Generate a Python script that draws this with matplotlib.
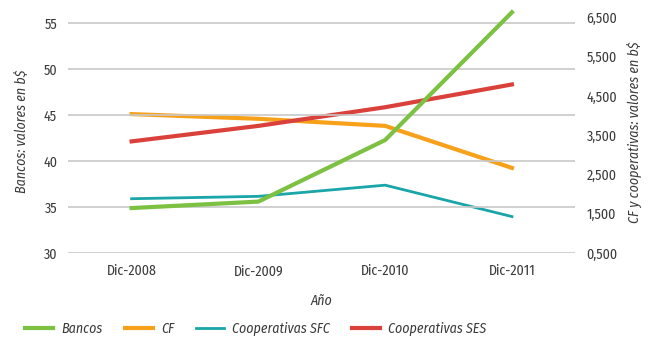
import matplotlib.pyplot as plt
from matplotlib.ticker import FuncFormatter

plt.rcParams['font.family'] = ['Fira Sans Condensed', 'DejaVu Sans']
plt.rcParams['font.weight'] = 'normal'

years = ["Dic-2008", "Dic-2009", "Dic-2010", "Dic-2011"]
bancos = [34.9, 35.6, 42.3, 56.2]
cf = [4040, 3920, 3740, 2670]
coop_sfc = [1885, 1945, 2230, 1430]
coop_ses = [3345, 3740, 4215, 4795]

left_ticks = [30, 35, 40, 45, 50, 55]
right_ticks = [500, 1500, 2500, 3500, 4500, 5500, 6500]

txt = "#3a3a3a"
fs = 10
fig = plt.figure(figsize=(6.56, 3.37), dpi=100)
ax = fig.add_axes([0.104, 0.249, 0.773, 0.72])
ax2 = ax.twinx()

x = list(range(len(years)))
l1, = ax.plot(x, bancos, color="#7dc142", lw=3, label="Bancos", clip_on=False, zorder=3)
l2, = ax2.plot(x, cf, color="#f7a11a", lw=3, label="CF", clip_on=False)
l3, = ax2.plot(x, coop_sfc, color="#1aa5a8", lw=2, label="Cooperativas SFC", clip_on=False)
l4, = ax2.plot(x, coop_ses, color="#d9413a", lw=3, label="Cooperativas SES", clip_on=False)

ax.set_xlim(-0.5, 3.5)
ax.set_ylim(30, 56.4)
ax2.set_ylim(500, 6680)
ax.set_yticks(left_ticks)
ax2.set_yticks(right_ticks)
ax2.yaxis.set_major_formatter(FuncFormatter(lambda v, p: "%d,%03d" % (int(v) // 1000, int(v) % 1000)))
ax.set_xticks(x)
ax.set_xticklabels(years)

ax.grid(axis="y", color="#c8c8c8", lw=1.2)
ax.set_axisbelow(True)
ax.set_zorder(ax2.get_zorder() + 1)
ax.patch.set_visible(False)

for a in (ax, ax2):
    for s in a.spines.values():
        s.set_visible(False)
    a.tick_params(length=0, labelsize=fs, colors=txt, pad=8)

ax.set_xlabel("Año", fontsize=fs, color=txt, style="italic", labelpad=11)
ax.set_ylabel("Bancos: valores en b$", fontsize=fs, color=txt, style="italic", labelpad=10)
ax2.set_ylabel("CF y cooperativas: valores en b$", fontsize=fs, color=txt, style="italic", labelpad=7)

leg = fig.legend(handles=[l1, l2, l3, l4], loc="lower center", bbox_to_anchor=(0.39, -0.035),
                 ncol=4, frameon=False, fontsize=fs, handlelength=2.0, columnspacing=1.6,
                 handletextpad=0.6)
for t in leg.get_texts():
    t.set_color(txt)
    t.set_style("italic")

fig.savefig("out.png", dpi=100)
